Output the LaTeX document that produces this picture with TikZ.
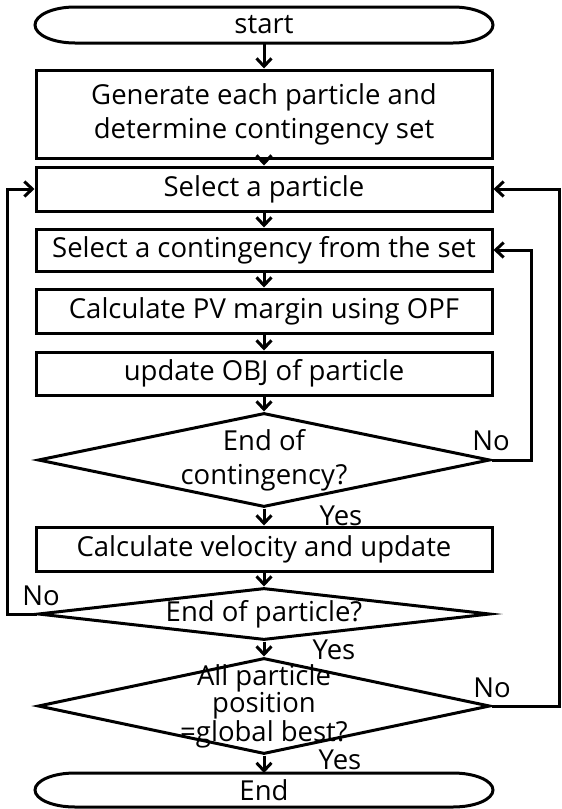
\documentclass[tikz,border=0pt]{standalone}
\usepackage{amsmath}
\usepackage{fontspec}
\setmainfont{Open Sans}
\usepackage{tikz}
\usetikzlibrary{arrows.meta,shapes.geometric,positioning}

\begin{document}
\begin{tikzpicture}[x=1pt,y=1pt,
  every node/.style={font=\fontsize{27.5}{34}\selectfont},
  line/.style={line width=3pt},
  arr/.style={line width=3pt,-{Straight Barb[length=8pt,width=15pt]}},
  box/.style={draw,line width=3pt,minimum width=456pt,minimum height=43pt,inner sep=0pt,align=center},
  term/.style={minimum width=458pt,minimum height=36pt,inner sep=0pt,outer sep=0pt},
  decision/.style={draw,diamond,line width=3pt,minimum width=452pt,inner sep=0pt},
  lbl/.style={inner sep=0pt}]
\fill[color=white] (0.000000,-809.000000) rectangle (562.000000,0.000000);
% Drawing terminals
% start
\node[term] (start) at (264.000000,-25.000000) {start};
\draw[line] ([xshift=40pt]start.north west) -- ([xshift=-40pt]start.north east) arc[start angle=90,end angle=-90,x radius=40pt,y radius=18pt] -- ([xshift=40pt]start.south west) arc[start angle=270,end angle=90,x radius=40pt,y radius=18pt] -- cycle;
% End
\node[term,minimum height=34pt] (stop) at (264.000000,-790.000000) {End};
\draw[line] ([xshift=40pt]stop.north west) -- ([xshift=-40pt]stop.north east) arc[start angle=90,end angle=-90,x radius=40pt,y radius=17pt] -- ([xshift=40pt]stop.south west) arc[start angle=270,end angle=90,x radius=40pt,y radius=17pt] -- cycle;
% Done with terminals; drawing boxes
\node[box,minimum height=88pt] (generate) at (264.000000,-114.000000) {Generate each particle and\\determine contingency set};
\node[box,minimum height=44pt] (selpart) at (264.000000,-189.000000) {Select a particle};
\node[box,minimum height=42pt] (selcont) at (264.000000,-250.000000) {Select a contingency from the set};
\node[box,minimum height=44pt] (calcpv) at (264.000000,-311.000000) {Calculate PV margin using OPF};
\node[box] (update) at (264.000000,-373.500000) {update OBJ of particle};
\node[box,minimum height=44pt] (velocity) at (264.000000,-549.000000) {Calculate velocity and update};
% Done with boxes; drawing decisions
\node[decision,minimum height=94pt] (endcont) at (264.000000,-460.000000) {};
\node[align=center] (endconttext) at (endcont) {End of\\contingency?};
\node[decision,minimum height=52pt] (endpart) at (264.000000,-614.000000) {};
\node (endparttext) at (endpart) {End of particle?};
\node[decision,minimum height=96pt] (best) at (264.000000,-706.000000) {};
\node[align=center,font=\fontsize{27.5}{23.5}\selectfont] (besttext) at (best) {All particle\\position\\=global best?};
% Done with decisions; drawing arrows
\draw[arr] (start.south) -- (generate.north);
\draw[arr] (generate.south) -- (selpart.north);
\draw[arr] (selpart.south) -- (selcont.north);
\draw[arr] (selcont.south) -- (calcpv.north);
\draw[arr] (calcpv.south) -- (update.north);
\draw[arr] (update.south) -- (endcont.north);
\draw[arr] (endcont.south) -- (velocity.north);
\draw[arr] (velocity.south) -- (endpart.north);
\draw[arr] (endpart.south) -- (best.north);
\draw[arr] (best.south) -- (stop.north);
% loops back
\draw[arr] (endcont.east) -- ++(40,0) |- (selcont.east);
\draw[arr] (endpart.west) -- ++(-29,0) |- (selpart.west);
\draw[arr] (best.east) -- ++(68,0) |- (selpart.east);
% Done with arrows; drawing labels
\node[lbl] (no1) at (491.000000,-441.000000) {No};
\node[lbl] (yes1) at (341.000000,-516.000000) {Yes};
\node[lbl] (no2) at (41.000000,-596.000000) {No};
\node[lbl] (yes2) at (334.000000,-650.000000) {Yes};
\node[lbl] (no3) at (492.000000,-688.000000) {No};
\node[lbl] (yes3) at (340.000000,-760.000000) {Yes};
% Done with labels
\end{tikzpicture}
\end{document}
